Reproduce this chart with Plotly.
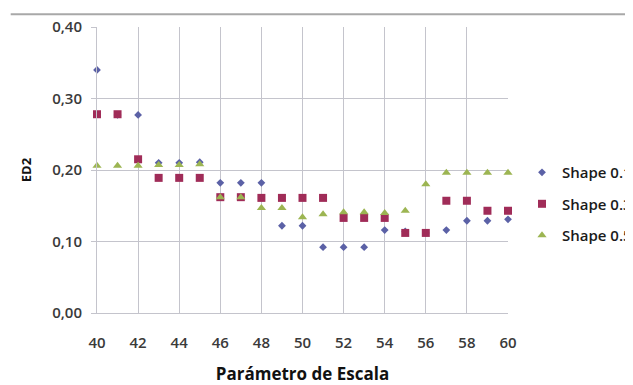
import plotly.graph_objects as go

x_vals = list(range(40, 61))
shape_01 = [0.340, 0.277, 0.277, 0.210, 0.210, 0.211, 0.182, 0.182, 0.182, 0.122, 0.122,
            0.092, 0.092, 0.092, 0.116, 0.114, 0.112, 0.116, 0.129, 0.129, 0.131]
shape_03 = [0.278, 0.278, 0.215, 0.189, 0.189, 0.189, 0.162, 0.162, 0.161, 0.161, 0.161,
            0.161, 0.133, 0.133, 0.133, 0.112, 0.112, 0.157, 0.157, 0.143, 0.143]
shape_05 = [0.206, 0.206, 0.206, 0.207, 0.207, 0.208, 0.162, 0.162, 0.147, 0.147, 0.134,
            0.138, 0.141, 0.141, 0.140, 0.143, 0.180, 0.196, 0.196, 0.196, 0.196]
series_names = ["Shape 0.1", "Shape 0.3", "Shape 0.5"]
y_ticks = [0.0, 0.1, 0.2, 0.3, 0.4]
x_ticks = list(range(40, 61, 2))

fig = go.Figure()
fig.add_trace(go.Scatter(x=x_vals, y=shape_01, mode="markers", name=series_names[0],
                         legendgroup="a", cliponaxis=False,
                         marker=dict(symbol="diamond", size=6, color="#5B61A6")))
fig.add_trace(go.Scatter(x=x_vals, y=shape_03, mode="markers", name=series_names[1],
                         legendgroup="b", cliponaxis=False,
                         marker=dict(symbol="square", size=8, color="#A02C58")))
fig.add_trace(go.Scatter(x=x_vals, y=shape_05, mode="markers", name=series_names[2],
                         legendgroup="c", cliponaxis=False,
                         marker=dict(symbol="triangle-up", size=8, color="#9CB552")))

font_family = "Open Sans, Liberation Sans, sans-serif"
grid_c = "#C4C4CC"
fig.update_layout(
    width=625, height=377,
    margin=dict(l=89, r=125, t=19, b=72, autoexpand=False),
    paper_bgcolor="white", plot_bgcolor="white",
    separators=",.",
    font=dict(family=font_family, color="#404040"),
    showlegend=True,
    legend=dict(xref="container", yref="container", x=0.8224, xanchor="left",
                y=0.480, yanchor="middle",
                font=dict(size=15, color="#1A1A1A", family=font_family, weight=600),
                traceorder="grouped", tracegroupgap=9, itemwidth=30,
                bgcolor="rgba(0,0,0,0)"),
    xaxis=dict(range=[40, 60], tickvals=x_ticks, showgrid=True, gridcolor=grid_c,
               gridwidth=1, zeroline=False, showline=True, linecolor=grid_c,
               ticks="", ticklabelstandoff=16, automargin=False,
               tickfont=dict(size=15, color="#3A3A3A", family=font_family, weight=600),
               title=dict(text="Parámetro de Escala",
                          font=dict(size=17, color="#111111", weight="bold"),
                          standoff=21)),
    yaxis=dict(range=[0, 0.4], tickvals=y_ticks, tickformat=".2f", showgrid=True,
               gridcolor=grid_c, gridwidth=1, zeroline=False, showline=True,
               linecolor=grid_c, ticks="outside", ticklen=5, tickcolor=grid_c,
               ticklabelstandoff=6, automargin=False,
               tickfont=dict(size=15, color="#3A3A3A", family=font_family, weight=600),
               title=dict(text="ED2", font=dict(size=13, color="#111111", weight="bold"),
                          standoff=17)),
    shapes=[dict(type="line", xref="paper", yref="paper", x0=-0.21, x1=1.35, y0=1.045, y1=1.045,
                 line=dict(color="#A8A8A8", width=2))],
)

fig.write_html("out.html")
